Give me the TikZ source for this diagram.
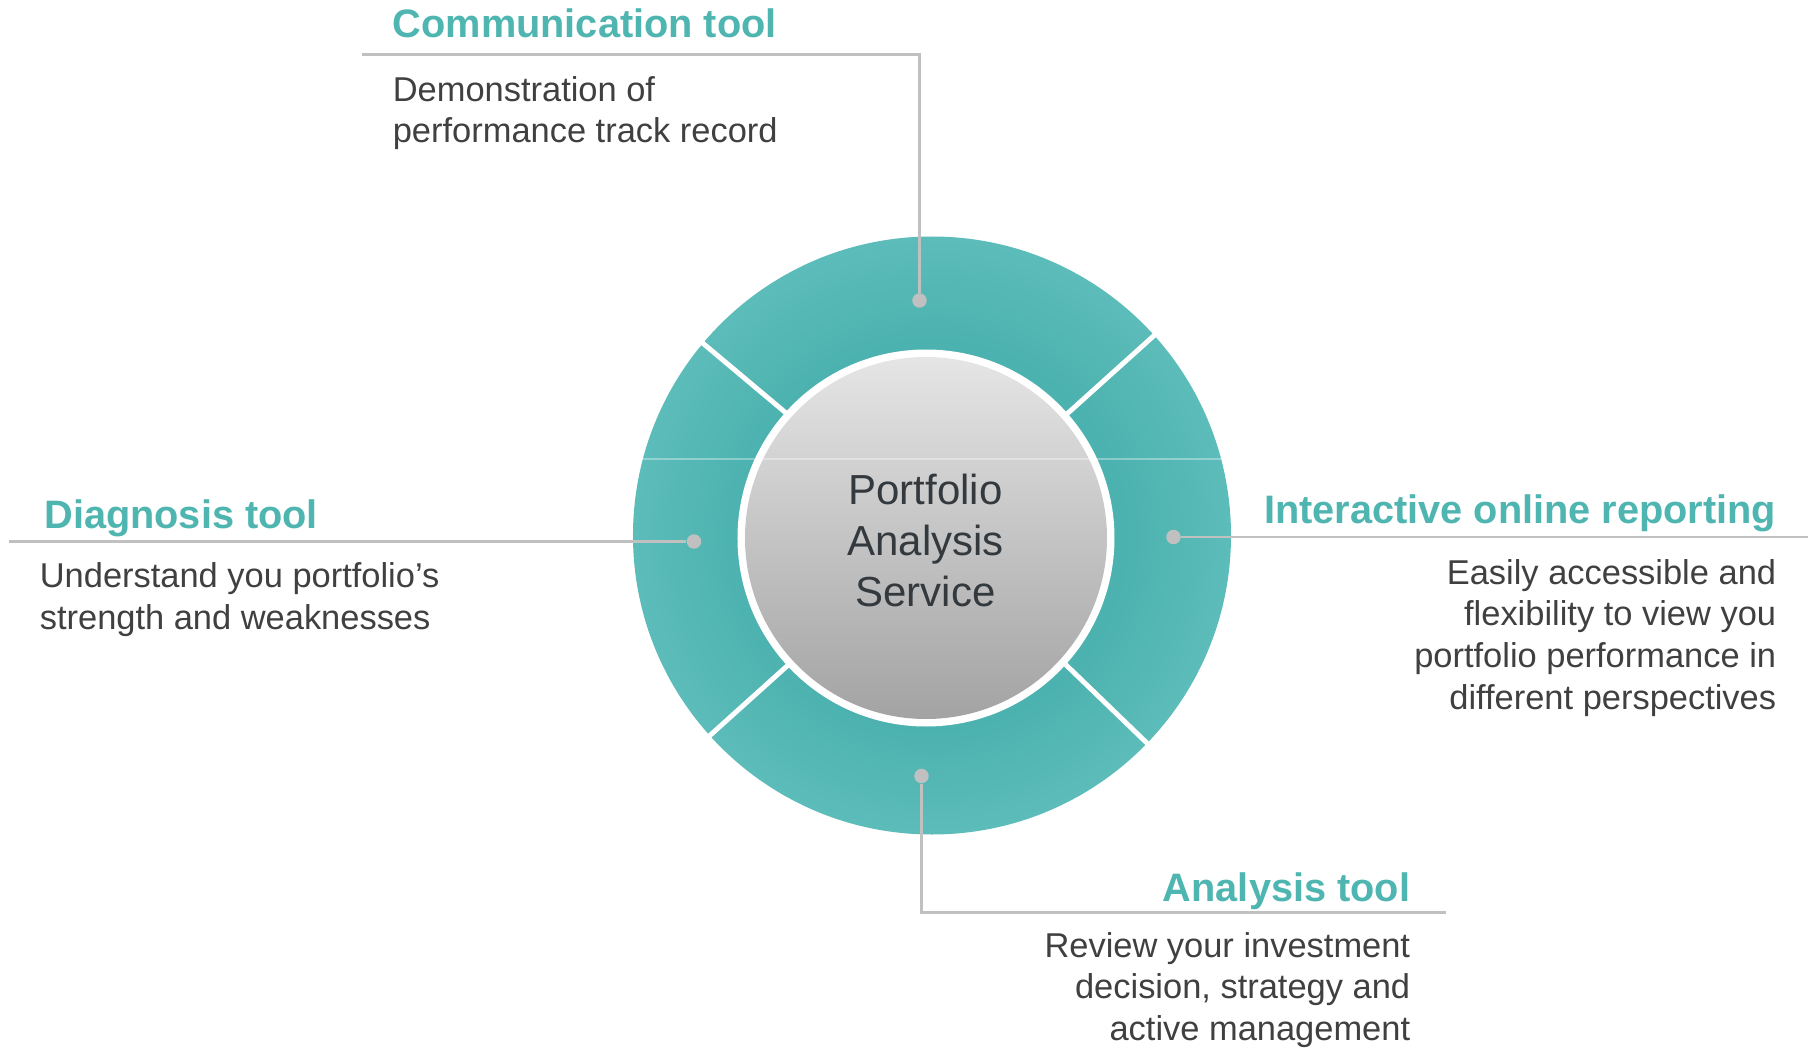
\documentclass[tikz,border=0pt]{standalone}
\usepackage{fontspec}
\setmainfont{Liberation Sans}
\usetikzlibrary{positioning}

\definecolor{ringdark}{RGB}{76,178,175}
\definecolor{ringlight}{RGB}{92,188,185}
\definecolor{headteal}{RGB}{78,181,176}
\definecolor{linegray}{RGB}{192,192,192}
\definecolor{bodygray}{RGB}{64,64,64}
\definecolor{hubtext}{RGB}{52,57,62}
\definecolor{hubtop}{RGB}{229,229,229}
\definecolor{hubbottom}{RGB}{163,163,163}

% teal ring: darker towards the hub, lighter at the rim
\pgfdeclareradialshading{ringshade}{\pgfpoint{0bp}{0bp}}{color(0bp)=(ringdark); color(16bp)=(ringdark); color(25bp)=(ringlight); color(50bp)=(ringlight)}

\tikzset{
  heading/.style={font=\fontsize{22.6}{27}\selectfont\bfseries, text=headteal, inner sep=0pt},
  blurb/.style={font=\fontsize{19.6}{23.7}\selectfont, text=bodygray, inner sep=0pt},
  link/.style={draw=linegray, line width=1.3pt},
  knob/.style={circle, fill=linegray, inner sep=0pt, minimum size=0.29cm},
  cut/.style={white, line width=2.8pt}
}

\begin{document}
\begin{tikzpicture}
\useasboundingbox (-18.64,-10.27) rectangle (17.58,10.71);

% ring with four cuts, then the hub on top
\shade[shading=ringshade] (0,0) circle (5.98);
\foreach \a in {42,140,222,316}
   \draw[cut] (\a:3.5) -- (\a:6.2);
\fill[white] (-0.12,-0.05) circle (3.77);
\shade[top color=hubtop, bottom color=hubbottom] (-0.12,-0.05) circle (3.62);
\draw[white, opacity=0.35, line width=0.6pt] (-5.77,1.53) -- (5.77,1.53);

% base of a multi-line node sits on its last line
\node[align=center, font=\fontsize{23.9}{28.9}\selectfont, text=hubtext, anchor=base] (hub) at (-0.13,-1.42) {Portfolio\\Analysis\\Service};

% pins on the ring and their leader lines
\node[knob] (ptop) at (-0.25,4.70) {};
\node[knob] (pbot) at (-0.21,-4.81) {};
\node[knob] (pleft) at (-4.76,-0.12) {};
\node[knob] (pright) at (4.83,-0.03) {};

\coordinate (etop) at (-11.39,9.62);
\coordinate (ebot) at (10.28,-7.54);
\coordinate (eleft) at (-18.46,-0.12);
\coordinate (eright) at (17.51,-0.03);

\draw[link] (ptop) |- (etop);
\draw[link] (pbot) |- (ebot);
\draw[link] (pleft) -- (eleft);
\draw[link] (pright) -- (eright);

% labels
\node[heading, anchor=base west] (comm) at (-10.79,9.95) {Communication tool};
\node[blurb, anchor=base west, align=left] (commtxt) at (-10.79,7.85) {Demonstration of\\performance track record};

\node[heading, anchor=base west] (diag) at (-17.76,0.15) {Diagnosis tool};
\node[blurb, anchor=base west, align=left] (diagtxt) at (-17.85,-1.88) {Understand you portfolio’s\\strength and weaknesses};

\node[heading, anchor=base east] (online) at (16.89,0.25) {Interactive online reporting};
\node[blurb, anchor=base east, align=right] (onlinetxt) at (16.89,-3.47) {Easily accessible and\\flexibility to view you\\portfolio performance in\\different perspectives};

\node[heading, anchor=base east] (anal) at (9.57,-7.31) {Analysis tool};
\node[blurb, anchor=base east, align=right] (analtxt) at (9.57,-10.10) {Review your investment\\decision, strategy and\\active management};

\end{tikzpicture}
\end{document}
